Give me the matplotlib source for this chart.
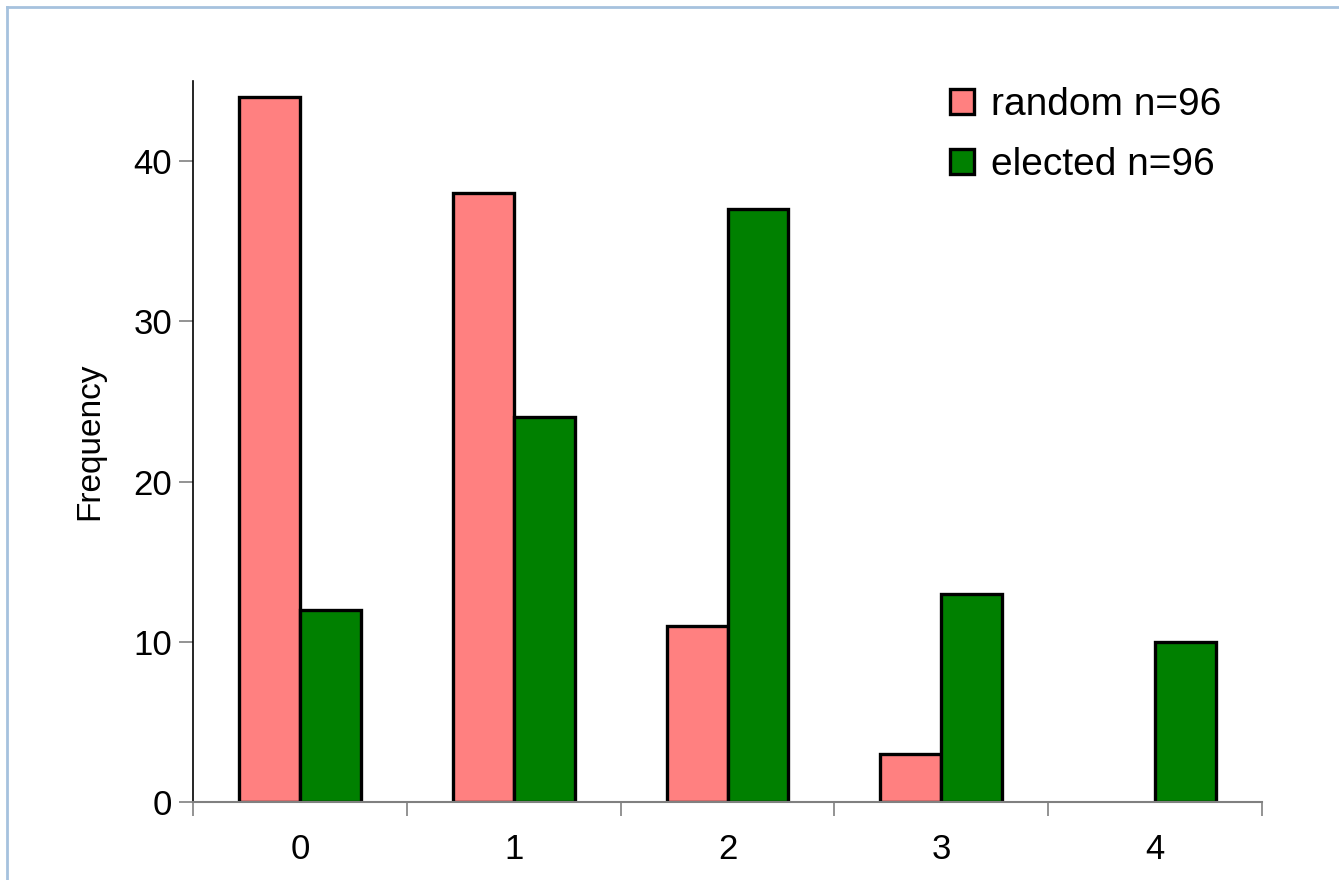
import matplotlib.pyplot as plt
from matplotlib.lines import Line2D
import numpy as np

plt.rcParams['font.family'] = ['Liberation Sans', 'DejaVu Sans']

categories = ['0', '1', '2', '3', '4']
random_vals = [44, 38, 11, 3, 0]
elected_vals = [12, 24, 37, 13, 10]
labels = ['random n=96', 'elected n=96']

fig = plt.figure(figsize=(13.39, 8.8), dpi=100)
ax = fig.add_axes([193 / 1339, 1 - 802 / 880, (1262 - 193) / 1339, (802 - 81) / 880])

x = np.arange(len(categories))
w = 0.285
# no outline for empty bars
lw_r = [2.4 if v > 0 else 0 for v in random_vals]
lw_e = [2.4 if v > 0 else 0 for v in elected_vals]
ax.bar(x - w / 2, random_vals, w, color='#FF8080', edgecolor='black', linewidth=lw_r, label=labels[0])
ax.bar(x + w / 2, elected_vals, w, color='#008000', edgecolor='black', linewidth=lw_e, label=labels[1])

ax.set_xlim(-0.5, 4.5)
ax.set_ylim(0, 45)
ax.set_yticks([0, 10, 20, 30, 40])
ax.set_xticks(x)
ax.set_xticklabels(categories)
ax.set_xticks(np.arange(-0.5, 5, 1), minor=True)
ax.tick_params(axis='x', which='major', length=0, pad=22, labelsize=25)
ax.tick_params(axis='x', which='minor', length=10, width=1.2, color='#808080')
ax.tick_params(axis='y', length=10, width=1.2, color='#808080', labelsize=25, pad=5)
ax.set_ylabel('Frequency', fontsize=24, labelpad=20)

for s in ['top', 'right']:
    ax.spines[s].set_visible(False)
ax.spines['left'].set_color('black')
ax.spines['left'].set_linewidth(1.2)
ax.spines['bottom'].set_color('#808080')
ax.spines['bottom'].set_linewidth(1.5)

leg = ax.legend(loc='upper right', bbox_to_anchor=(0.995, 1.04), frameon=False, fontsize=28,
                handlelength=0.6, handleheight=0.6, handletextpad=0.45, labelspacing=0.62)
for h in leg.legend_handles:
    h.set_linewidth(2.4)

# light blue frame around the chart area
fig.add_artist(Line2D([7 / 1339, 7 / 1339], [0, 1 - 7 / 880], color='#A6C2DE', linewidth=2))
fig.add_artist(Line2D([7 / 1339, 1], [1 - 7 / 880, 1 - 7 / 880], color='#A6C2DE', linewidth=2))

fig.savefig('out.png', dpi=100)
